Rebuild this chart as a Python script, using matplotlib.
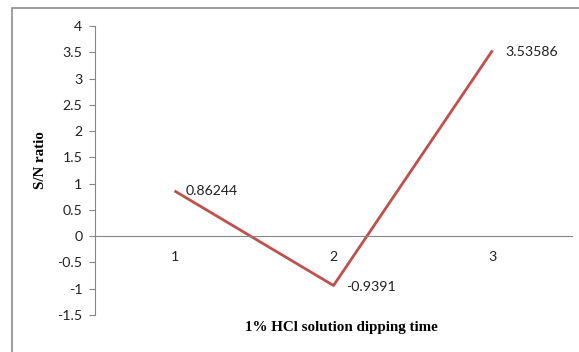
import matplotlib.pyplot as plt
from matplotlib.patches import Rectangle

categories = ['1', '2', '3']
sn_ratio = [0.86244, -0.9391, 3.53586]
value_labels = ['0.86244', '-0.9391', '3.53586']
y_ticks = [-1.5, -1, -0.5, 0, 0.5, 1, 1.5, 2, 2.5, 3, 3.5, 4]

W, H = 579, 352
fig = plt.figure(figsize=(W / 100, H / 100), dpi=100)
ax = fig.add_axes([95 / W, 1 - 315 / H, (572 - 95) / W, (315 - 26) / H])

# chart outer border (Excel style, cropped on right/bottom)
fig.patches.append(Rectangle((12 / W, -0.05), 1.0, 1 - 8 / H + 0.05,
                             transform=fig.transFigure, fill=False,
                             edgecolor='#8c8c8c', linewidth=1.2))

x = [i + 0.5 for i in range(len(categories))]
ax.plot(x, sn_ratio, color='#C0504D', linewidth=2.0, solid_capstyle='butt')

tick_font = 'Lato'
fs = 10.2
offsets = [(8, 0), (9, -1), (9, -1)]
for xi, yi, lab, (dx, dy) in zip(x, sn_ratio, value_labels, offsets):
    ax.annotate(lab, (xi, yi), xytext=(dx, dy), textcoords='offset points',
                ha='left', va='center', fontsize=fs, family=tick_font,
                color='#222222')

ax.set_xlim(0, 3)
ax.set_ylim(-1.5, 4)
ax.set_yticks(y_ticks)
ax.set_yticklabels([f'{v:g}' for v in y_ticks], family=tick_font, fontsize=fs,
                   color='#222222')
ax.tick_params(axis='y', length=4, width=0.8, color='#868686', pad=5)

ax.spines['top'].set_visible(False)
ax.spines['right'].set_visible(False)
ax.spines['left'].set_color('#868686')
ax.spines['bottom'].set_position(('data', 0))
ax.spines['bottom'].set_color('#868686')
ax.set_xticks([])
for xi, c in zip(x, categories):
    ax.text(xi, -0.28, c, ha='center', va='top', fontsize=fs, family=tick_font,
            color='#222222')

fig.text(341 / W, 1 - 327 / H, '1% HCl solution dipping time', ha='center',
         va='center', family='Liberation Serif', fontweight='bold', fontsize=10.8)
fig.text(41 / W, 1 - 160 / H, 'S/N ratio', ha='center', va='center',
         rotation=90, family='Liberation Serif', fontweight='bold', fontsize=10.8)

fig.savefig('out.png', dpi=100)
